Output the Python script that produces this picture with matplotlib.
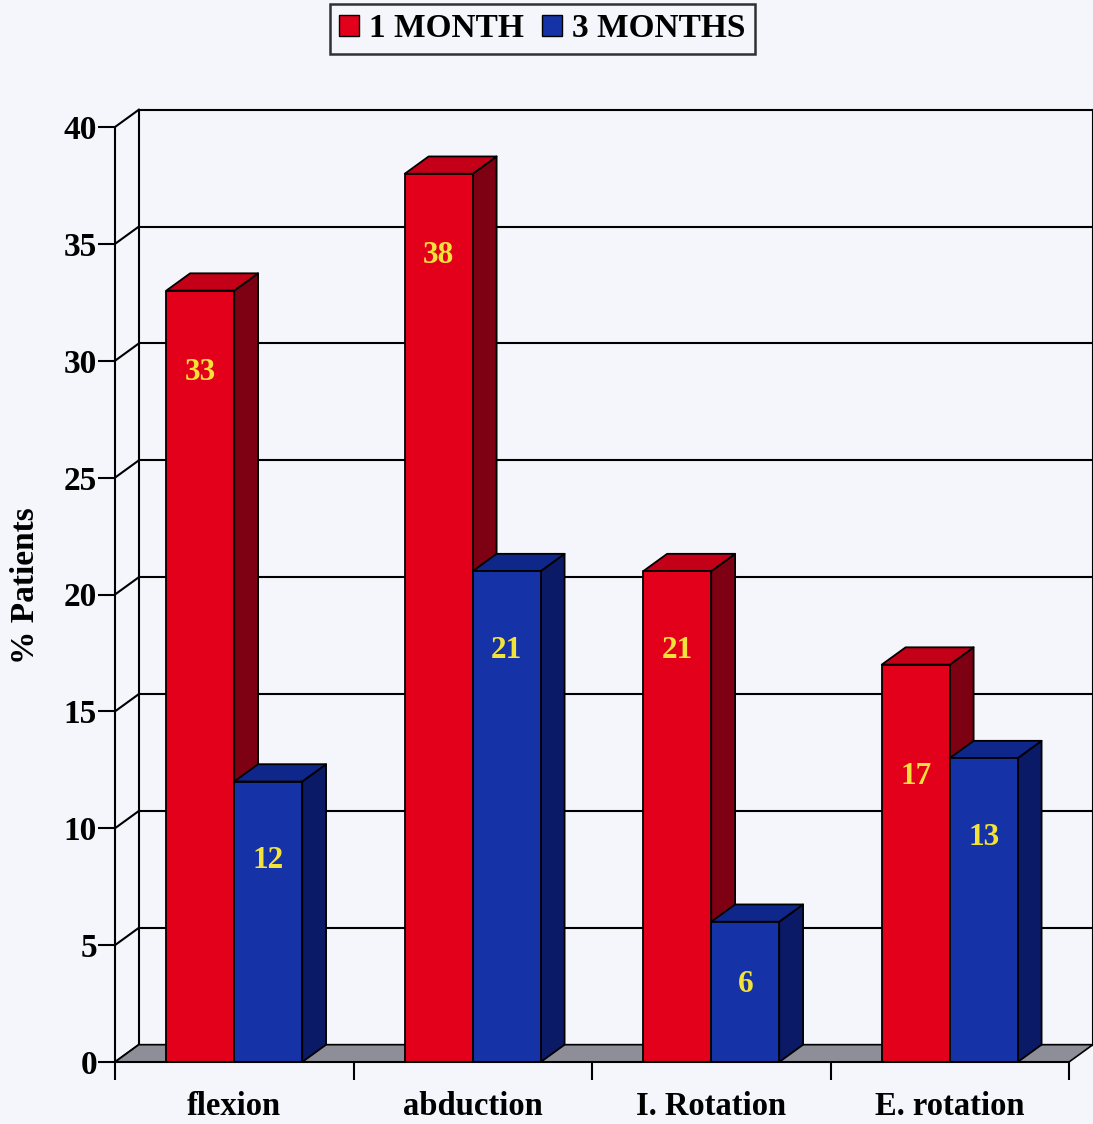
import matplotlib
matplotlib.use("Agg")
import matplotlib.pyplot as plt
from matplotlib.patches import Polygon, Patch

# ---- data ----
categories = ["flexion", "abduction", "I. Rotation", "E. rotation"]
one_month = [33, 38, 21, 17]
three_months = [12, 21, 6, 13]
series_names = ["1 MONTH", "3 MONTHS"]
y_ticks = [0, 5, 10, 15, 20, 25, 30, 35, 40]

# ---- style ----
BG = "#F4F6FB"
FACE = {"red": ("#E3001B", "#C40018", "#7E0013"),
        "blue": ("#1532A6", "#0F268A", "#0A1A66")}
LABEL_COLOR = "#F3E23A"
SERIF = "Liberation Serif"

W, H = 1093, 1124
fig = plt.figure(figsize=(W / 100, H / 100), dpi=100, facecolor=BG)

# pixel geometry of the plotting frame
x0_px, y0_px = 115, 1062          # front origin (left, from top)
sx, sy = 238.5, 23.375            # pixels per category / per value unit
xmax, ymax = 4.105, 40.8
ax = fig.add_axes([x0_px / W, (H - y0_px) / H, xmax * sx / W, ymax * sy / H])
ax.set_xlim(0, xmax)
ax.set_ylim(0, ymax)
ax.set_facecolor(BG)

# depth offset of the 3-D box, in data units
dx, dy = 0.1, 0.74
ncat = len(categories)

# back wall gridlines and side-wall diagonals
lw = 1.5
for v in y_ticks:
    ax.plot([dx, ncat + dx], [v + dy, v + dy], color="black", lw=lw, zorder=1)
    ax.plot([0, dx], [v, v + dy], color="black", lw=lw, zorder=1)
ax.plot([dx, dx], [dy, y_ticks[-1] + dy], color="black", lw=lw, zorder=1)
ax.plot([ncat + dx, ncat + dx], [dy, y_ticks[-1] + dy], color="black", lw=lw, zorder=1)

# floor
ax.add_patch(Polygon([(0, 0), (ncat, 0), (ncat + dx, dy), (dx, dy)], closed=True,
                     facecolor="#8E8E98", edgecolor="black", lw=1.2, zorder=2))


def bar3d(xl, width, h, colors, z):
    front, top, side = colors
    xr = xl + width
    kw = dict(closed=True, edgecolor="black", lw=1.3, zorder=z, joinstyle="round")
    ax.add_patch(Polygon([(xr, 0), (xr + dx, dy), (xr + dx, h + dy), (xr, h)], facecolor=side, **kw))
    ax.add_patch(Polygon([(xl, h), (xr, h), (xr + dx, h + dy), (xl + dx, h + dy)], facecolor=top, **kw))
    ax.add_patch(Polygon([(xl, 0), (xr, 0), (xr, h), (xl, h)], facecolor=front, **kw))


bw = 0.285
label_drop = [3.5, 3.5, 3.4, 4.8]
for i in range(ncat):
    c = i + 0.5
    for j, (vals, key) in enumerate([(one_month, "red"), (three_months, "blue")]):
        xl = c - bw if j == 0 else c
        v = vals[i]
        bar3d(xl, bw, v, FACE[key], 3 + 2 * i + j)
        drop = label_drop[i] if j == 0 else 3.4
        ly = max(v - drop, v * 0.55)
        ax.text(xl + bw / 2, ly, str(v), ha="center", va="center", color=LABEL_COLOR,
                fontsize=22.5, fontweight="bold", family=SERIF, zorder=20)

# axes, ticks and labels
for s in ["top", "right"]:
    ax.spines[s].set_visible(False)
ax.spines["left"].set_bounds(0, y_ticks[-1])
ax.spines["bottom"].set_bounds(0, ncat)
for s in ["left", "bottom"]:
    ax.spines[s].set_linewidth(1.5)
    ax.spines[s].set_zorder(30)
ax.set_yticks(y_ticks)
ax.set_yticklabels([str(t) for t in y_ticks], fontsize=24, fontweight="bold", family=SERIF)
ax.set_xticks(range(ncat + 1))
ax.set_xticklabels([])
ax.set_xticks([k + 0.5 for k in range(ncat)], minor=True)
ax.set_xticklabels(categories, minor=True, fontsize=23.5, fontweight="bold", family=SERIF)
ax.tick_params(axis="y", length=12, width=1.5, pad=1)
ax.tick_params(axis="x", which="major", length=13, width=1.5)
ax.tick_params(axis="x", which="minor", length=0, pad=21)
ax.set_ylabel("% Patients", fontsize=24, fontweight="bold", family=SERIF, labelpad=16)

# legend
handles = [Patch(facecolor=FACE["red"][0], edgecolor="black", lw=1.0),
           Patch(facecolor=FACE["blue"][0], edgecolor="black", lw=1.0)]
leg = fig.legend(handles, series_names, loc="upper center", bbox_to_anchor=(0.4963, 0.9965),
                 ncol=2, frameon=True, fancybox=False, edgecolor="black", facecolor=BG,
                 prop={"family": SERIF, "weight": "bold", "size": 24},
                 handlelength=0.6, handleheight=0.6, handletextpad=0.3, columnspacing=0.55,
                 borderpad=0.28, borderaxespad=0.0)
leg.get_frame().set_linewidth(1.8)

fig.savefig("out.png", dpi=100, facecolor=BG)
